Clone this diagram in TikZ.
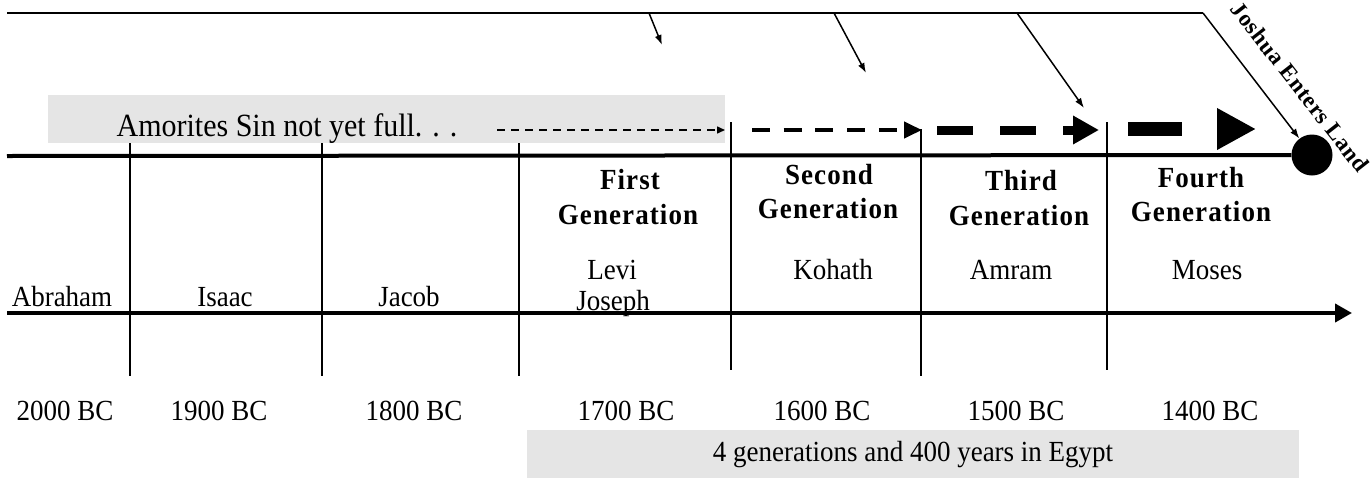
\documentclass[tikz,border=0pt]{standalone}
\usepackage{fontspec}
\usepackage{graphicx}
\setmainfont{Liberation Serif}
\usetikzlibrary{arrows.meta}
\newcommand\vs[1]{\scalebox{1}[1.08]{#1}}
\begin{document}
\begin{tikzpicture}[x=1pt,y=-1pt,
 txt/.style={inner sep=0pt, anchor=base, font=\fontsize{27}{30}\selectfont},
 big/.style={inner sep=0pt, anchor=base, font=\fontsize{30}{33}\selectfont},
 gen/.style={inner sep=0pt, anchor=base, font={\fontsize{27}{30}\selectfont\bfseries\addfontfeature{LetterSpace=4}}},
 band/.style={fill=black!10, draw=none, inner sep=0pt, anchor=north west},
 vline/.style={line width=1.6pt},
 axis/.style={line width=4pt},
 topline/.style={line width=2pt},
 pointer/.style={line width=1.5pt, -{Latex[length=10pt,width=7pt]}},
]
\useasboundingbox (0,0) rectangle (1370,477);
% grey bands
\node[band, minimum width=677pt, minimum height=48pt] (amband) at (48,95) {};
\node[band, minimum width=772pt, minimum height=48pt] (egband) at (527,430) {};

% land circle
\node[circle, fill=black, minimum size=41pt, inner sep=0pt] (land) at (1312,155) {};

% top line and pointers
\coordinate (t0) at (7,13);
\coordinate (t1) at (649,13);
\coordinate (t2) at (834,13);
\coordinate (t3) at (1017,13);
\coordinate (t4) at (1203,13);
\coordinate (p1) at (662,45);
\coordinate (p2) at (866,73);
\coordinate (p3) at (1084,108);
\draw[topline] (t0) -- (t4);
\draw[line width=1.5pt, -{Latex[length=10pt,width=7pt]}] (t4) -- (land);
\draw[pointer] (t1) -- (p1);
\draw[pointer] (t2) -- (p2);
\draw[pointer] (t3) -- (p3);
\node[rotate=-52, inner sep=0pt, font={\fontsize{23}{25}\selectfont\bfseries\addfontfeature{LetterSpace=3}}] (josh) at (1300,87) {Joshua Enters Land};

% axes
\coordinate (ua) at (7,156);
\draw[axis] (ua) -- (land);
\coordinate (la) at (7,313);
\coordinate (lb) at (1352,313);
\draw[axis, -{Triangle[length=17pt,width=18pt]}] (la) -- (lb);

% vertical separators
\coordinate (v1a) at (130,143); \coordinate (v1b) at (130,376);
\coordinate (v2a) at (322,143); \coordinate (v2b) at (322,376);
\coordinate (v3a) at (519,143); \coordinate (v3b) at (519,376);
\coordinate (v4a) at (731,122); \coordinate (v4b) at (731,370);
\coordinate (v5a) at (921,129); \coordinate (v5b) at (921,376);
\coordinate (v6a) at (1107,122); \coordinate (v6b) at (1107,370);
\foreach \i in {1,...,6} {\draw[vline] (v\i a) -- (v\i b);}

% growing dashed arrows
\coordinate (d1a) at (497,130); \coordinate (d1b) at (725,130);
\coordinate (d2a) at (752,130); \coordinate (d2b) at (922,130);
\coordinate (d3a) at (937,130); \coordinate (d3b) at (1099,130);
\coordinate (d4a) at (1128,129); \coordinate (d4b) at (1256,129);
\draw[line width=1.5pt, dash pattern=on 8pt off 6pt, -{Triangle[length=8pt,width=7pt]}] (d1a) -- (d1b);
\draw[line width=4pt, dash pattern=on 18pt off 13.7pt, -{Triangle[length=18pt,width=16pt]}] (d2a) -- (d2b);
\draw[line width=9pt, dash pattern=on 36pt off 27pt, -{Triangle[length=26pt,width=27pt]}] (d3a) -- (d3b);
\draw[line width=14pt, dash pattern=on 54pt off 100pt, -{Triangle[length=39pt,width=39pt]}] (d4a) -- (d4b);

% texts
\node[big] (amor) at (287,136) {\vs{Amorites Sin not yet full. . .}};
\node[txt] (abr) at (62,306) {\vs{Abraham}};
\node[txt] (isa) at (225,306) {\vs{Isaac}};
\node[txt] (jac) at (409,306) {\vs{Jacob}};
\node[txt] (lev) at (612,279) {\vs{Levi}};
\node[txt] (jos) at (613,310) {\vs{Joseph}};
\node[txt] (koh) at (833,279) {\vs{Kohath}};
\node[txt] (amr) at (1011,279) {\vs{Amram}};
\node[txt] (mos) at (1207,279) {\vs{Moses}};

\node[gen] (g1a) at (630,189) {\vs{First}};
\node[gen] (g1b) at (628,224) {\vs{Generation}};
\node[gen] (g2a) at (829,184) {\vs{Second}};
\node[gen] (g2b) at (828,218) {\vs{Generation}};
\node[gen] (g3a) at (1021,190) {\vs{Third}};
\node[gen] (g3b) at (1019,225) {\vs{Generation}};
\node[gen] (g4a) at (1201,187) {\vs{Fourth}};
\node[gen] (g4b) at (1201,221) {\vs{Generation}};

\node[txt] (y1) at (65,420) {\vs{2000 BC}};
\node[txt] (y2) at (219,420) {\vs{1900 BC}};
\node[txt] (y3) at (414,420) {\vs{1800 BC}};
\node[txt] (y4) at (626,420) {\vs{1700 BC}};
\node[txt] (y5) at (822,420) {\vs{1600 BC}};
\node[txt] (y6) at (1016,420) {\vs{1500 BC}};
\node[txt] (y7) at (1210,420) {\vs{1400 BC}};

\node[txt] (egy) at (913,461) {\vs{4 generations and 400 years in Egypt}};
\end{tikzpicture}
\end{document}
